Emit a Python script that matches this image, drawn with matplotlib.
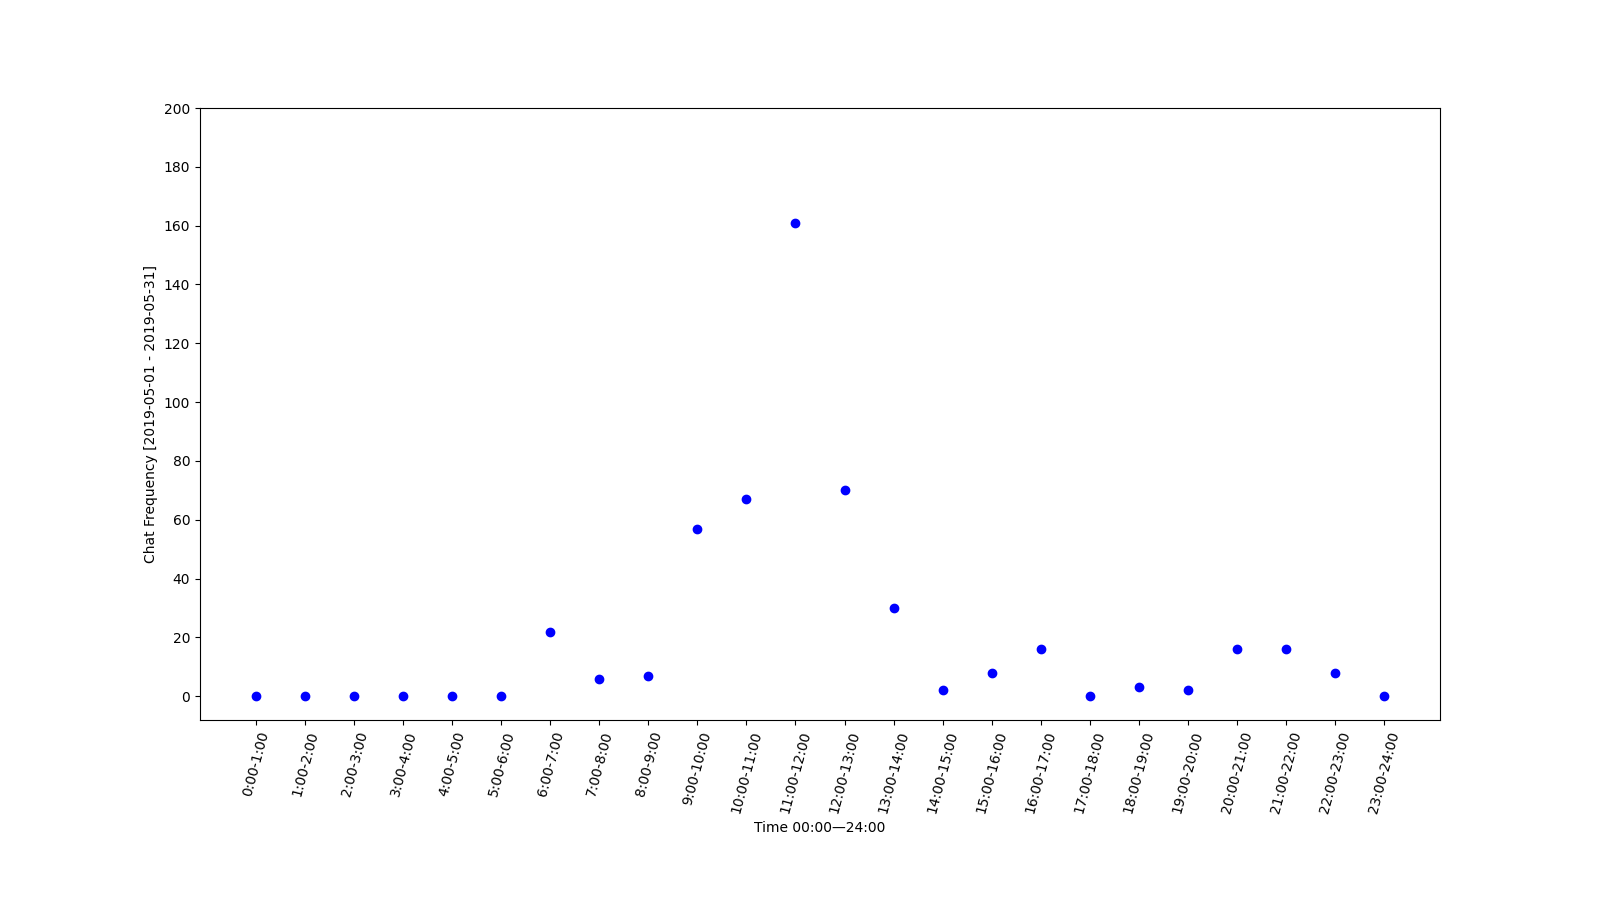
import matplotlib
matplotlib.use("Agg")
import matplotlib.pyplot as plt
import numpy as np

hours = ["%d:00-%d:00" % (h, h + 1) for h in range(24)]
counts = [0, 0, 0, 0, 0, 0, 22, 6, 7, 57, 67, 161, 70, 30, 2, 8, 16, 0, 3, 2, 16, 16, 8, 0]
yticks = list(range(0, 201, 20))

fig = plt.figure(figsize=(16, 9), dpi=100)
x = np.arange(len(hours))
plt.plot(x, counts, "bo")
plt.xticks(x, hours, rotation=75)
plt.yticks(yticks)
plt.ylim(top=200)
plt.xlabel("Time 00:00\u201424:00")
plt.ylabel("Chat Frequency [2019-05-01 - 2019-05-31]")
plt.subplots_adjust(bottom=0.2)
plt.savefig("out.png")
